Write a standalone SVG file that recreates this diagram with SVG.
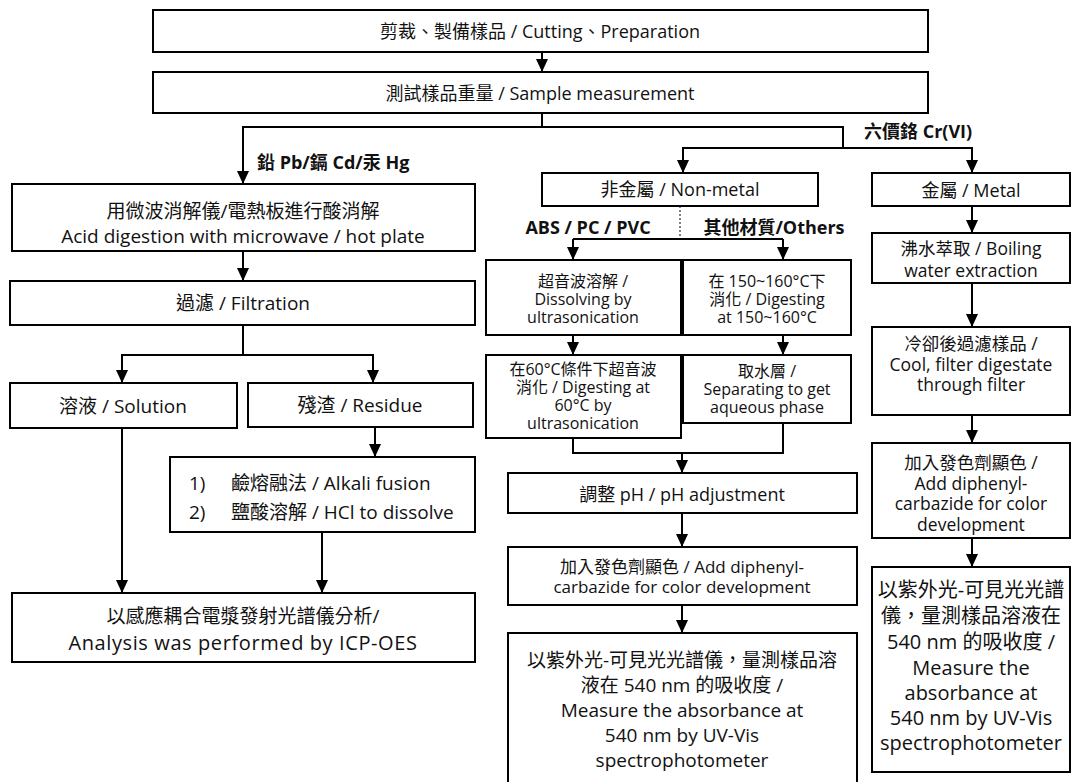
<svg xmlns="http://www.w3.org/2000/svg" width="1074" height="782" viewBox="0 0 1074 782">
<defs>
<marker id="ah" markerUnits="userSpaceOnUse" markerWidth="13" markerHeight="12" viewBox="0 0 13 12" refX="13" refY="6" orient="auto">
<path d="M0,0 L13,6 L0,12 z" fill="#000"/>
</marker>
<style>
rect{fill:#fff;stroke:#000;stroke-width:2}
text{font-family:'Open Sans','Noto Sans CJK TC',sans-serif;font-size:18px;fill:#111;text-anchor:middle;dominant-baseline:central}
.lbl{font-weight:bold}
.st{text-anchor:start}
.l{font-size:19px}
.s{font-size:16px}
.m{font-size:17.5px}
.d{font-size:17px}
.big{font-size:20px}
.c line,.c path{stroke:#000;stroke-width:2;fill:none}
.c .ar{marker-end:url(#ah)}
.c .dash{stroke-width:1;stroke-dasharray:2 2}
</style>
</defs>
<rect x="0" y="0" width="1074" height="782" style="fill:#fff;stroke:none"/>

<g id="n1"><rect x="153" y="10" width="775" height="42"/><text x="540" y="31">剪裁、製備樣品 / Cutting、Preparation</text></g>
<g id="n2"><rect x="153" y="72" width="775" height="41"/><text x="540" y="93">測試樣品重量 / Sample measurement</text></g>

<g id="lbl-pb"><text class="lbl st" x="257" y="162">鉛 Pb/鎘 Cd/汞 Hg</text></g>
<g id="lbl-cr"><text class="lbl st" x="864" y="131">六價鉻 Cr(VI)</text></g>

<g id="acid"><rect x="12" y="184" width="463" height="67"/><text class="l" x="243" y="211">用微波消解儀/電熱板進行酸消解<tspan x="243" dy="25">Acid digestion with microwave / hot plate</tspan></text></g>
<g id="filt"><rect x="10" y="281" width="465" height="44"/><text class="l" x="243" y="303">過濾 / Filtration</text></g>
<g id="sol"><rect x="10" y="383" width="227" height="45"/><text class="l" x="123" y="406">溶液 / Solution</text></g>
<g id="res"><rect x="248" y="383" width="225" height="44"/><text class="l" x="360" y="405">殘渣 / Residue</text></g>
<g id="alk"><rect x="170" y="457" width="305" height="75"/><text class="st l" x="189" y="483">1)<tspan x="231">鹼熔融法 / Alkali fusion</tspan><tspan x="189" dy="29">2)</tspan><tspan x="231">鹽酸溶解 / HCl to dissolve</tspan></text></g>
<g id="icp"><rect x="12" y="593" width="463" height="69"/><text x="243" y="616"><tspan class="l">以感應耦合電漿發射光譜儀分析/</tspan><tspan x="243" dy="26" style="font-size:20px;letter-spacing:0.6px">Analysis was performed by  ICP-OES</tspan></text></g>

<g id="nonmetal"><rect x="542" y="173" width="276" height="33"/><text x="680" y="189">非金屬 / Non-metal</text></g>
<g id="lbl-abs"><text class="lbl" x="588" y="227">ABS / PC / PVC</text></g>
<g id="lbl-oth"><text class="lbl" x="774" y="227">其他材質/Others</text></g>
<g id="ultra"><rect x="486" y="260" width="195" height="75"/><text class="s" x="583" y="281">超音波溶解 /<tspan x="583" dy="18">Dissolving by</tspan><tspan x="583" dy="18">ultrasonication</tspan></text></g>
<g id="dig150"><rect x="683" y="260" width="168" height="75"/><text class="s" x="767" y="281">在 150~160°C下<tspan x="767" dy="18">消化 / Digesting</tspan><tspan x="767" dy="18">at 150~160°C</tspan></text></g>
<g id="dig60"><rect x="486" y="355" width="195" height="83"/><text class="s" x="583" y="369">在60°C條件下超音波<tspan x="583" dy="18">消化 / Digesting at</tspan><tspan x="583" dy="18">60°C by</tspan><tspan x="583" dy="18">ultrasonication</tspan></text></g>
<g id="aq"><rect x="683" y="355" width="168" height="68"/><text class="s" x="767" y="371">取水層 /<tspan x="767" dy="18">Separating to get</tspan><tspan x="767" dy="18">aqueous phase</tspan></text></g>
<g id="ph"><rect x="508" y="473" width="349" height="40"/><text x="682" y="494">調整 pH / pH adjustment</text></g>
<g id="dpc"><rect x="508" y="547" width="349" height="58"/><text class="d" x="682" y="566.5">加入發色劑顯色 / Add diphenyl-<tspan x="682" dy="19">carbazide for color development</tspan></text></g>
<g id="uv1"><rect x="508" y="633" width="349" height="160"/><text class="l" x="682" y="660">以紫外光-可見光光譜儀，量測樣品溶<tspan x="682" dy="25">液在 540 nm 的吸收度 /</tspan><tspan x="682" dy="25">Measure the absorbance at</tspan><tspan x="682" dy="25">540 nm by UV-Vis</tspan><tspan x="682" dy="25">spectrophotometer</tspan></text></g>

<g id="metal"><rect x="872" y="173" width="198" height="33"/><text x="971" y="190">金屬 / Metal</text></g>
<g id="boil"><rect x="872" y="233" width="198" height="50"/><text class="m" x="971" y="248">沸水萃取 / Boiling<tspan x="971" dy="22">water extraction</tspan></text></g>
<g id="cool"><rect x="872" y="327" width="198" height="88"/><text class="m" x="971" y="343">冷卻後過濾樣品 /<tspan x="971" dy="20.5">Cool, filter digestate</tspan><tspan x="971" dy="20.5">through filter</tspan></text></g>
<g id="dpc2"><rect x="872" y="443" width="198" height="95"/><text class="m" x="971" y="462">加入發色劑顯色 /<tspan x="971" dy="20.5">Add diphenyl-</tspan><tspan x="971" dy="20.5">carbazide for color</tspan><tspan x="971" dy="20.5">development</tspan></text></g>
<g id="uv2"><rect x="872" y="567" width="198" height="205"/><text class="big" x="971" y="589">以紫外光-可見光光譜<tspan x="971" dy="26">儀，量測樣品溶液在</tspan><tspan x="971" dy="26">540 nm 的吸收度 /</tspan><tspan x="971" dy="26">Measure the</tspan><tspan x="971" dy="25">absorbance at</tspan><tspan x="971" dy="25">540 nm by UV-Vis</tspan><tspan x="971" dy="25">spectrophotometer</tspan></text></g>

<g id="connectors" class="c">
<line class="ar" x1="542" y1="52" x2="542" y2="72"/>
<path d="M542,113 V127 H843 V148"/>
<path class="ar" d="M542,127 H243 V184"/>
<path class="ar" d="M843,148 H683 V173"/>
<path class="ar" d="M843,148 H972 V173"/>
<line class="ar" x1="243" y1="251" x2="243" y2="281"/>
<line x1="243" y1="325" x2="243" y2="355"/>
<path class="ar" d="M243,355 H122 V383"/>
<path class="ar" d="M243,355 H373 V383"/>
<line class="ar" x1="375" y1="427" x2="375" y2="457"/>
<line class="ar" x1="122" y1="428" x2="122" y2="593"/>
<line class="ar" x1="322" y1="532" x2="322" y2="593"/>
<line class="dash" x1="680" y1="206" x2="680" y2="239"/>
<path d="M573,239 H783"/>
<line class="ar" x1="573" y1="239" x2="573" y2="260"/>
<line class="ar" x1="783" y1="239" x2="783" y2="260"/>
<line class="ar" x1="573" y1="335" x2="573" y2="355"/>
<line class="ar" x1="783" y1="335" x2="783" y2="355"/>
<path d="M573,438 V453 H783 V423"/>
<line class="ar" x1="682" y1="453" x2="682" y2="473"/>
<line class="ar" x1="682" y1="513" x2="682" y2="547"/>
<line class="ar" x1="682" y1="605" x2="682" y2="633"/>
<line class="ar" x1="972" y1="206" x2="972" y2="233"/>
<line class="ar" x1="972" y1="283" x2="972" y2="327"/>
<line class="ar" x1="972" y1="415" x2="972" y2="443"/>
<line class="ar" x1="972" y1="538" x2="972" y2="567"/>
</g>
</svg>
